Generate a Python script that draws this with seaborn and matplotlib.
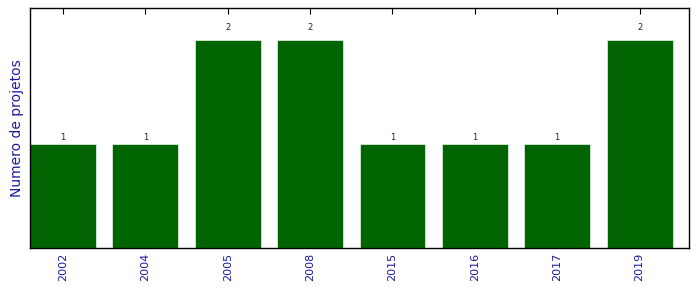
import matplotlib
matplotlib.use("Agg")
import matplotlib.pyplot as plt
import seaborn as sns
import pandas as pd

anos = ["2002", "2004", "2005", "2008", "2015", "2016", "2017", "2019"]
projetos = [1, 1, 2, 2, 1, 1, 1, 2]

df = pd.DataFrame({"ano": anos, "n": projetos})

sns.set_style("white")
plt.rcParams['font.family'] = ['DejaVu Sans']

fig = plt.figure(figsize=(6.99, 2.92), dpi=100)
ax = fig.add_axes([30/699, 44/292, 659/699, 240/292])

sns.barplot(data=df, x="ano", y="n", order=anos, color="#006400", saturation=1,
            width=0.8, edgecolor="#d8e8d8", linewidth=0.6, ax=ax, errorbar=None)

for i, v in enumerate(projetos):
    ax.text(i, v * 1.063, str(v), ha="center", va="center", fontsize=6, color="#222222")

ax.set_xlim(-0.4, 7.6)
ax.set_ylim(0, 2.31)
ax.set_yticks([])
ax.set_xlabel("")
ax.set_ylabel("Numero de projetos", color="#1a1aa0", fontsize=10)
ax.tick_params(axis="x", direction="in", top=True, bottom=True, length=4, width=0.8,
               labelsize=8, labelcolor="#1a1aa0", rotation=90, color="black")
for s in ax.spines.values():
    s.set_visible(True)
    s.set_color("black")
    s.set_linewidth(1.0)

fig.savefig("out.png", dpi=100)
